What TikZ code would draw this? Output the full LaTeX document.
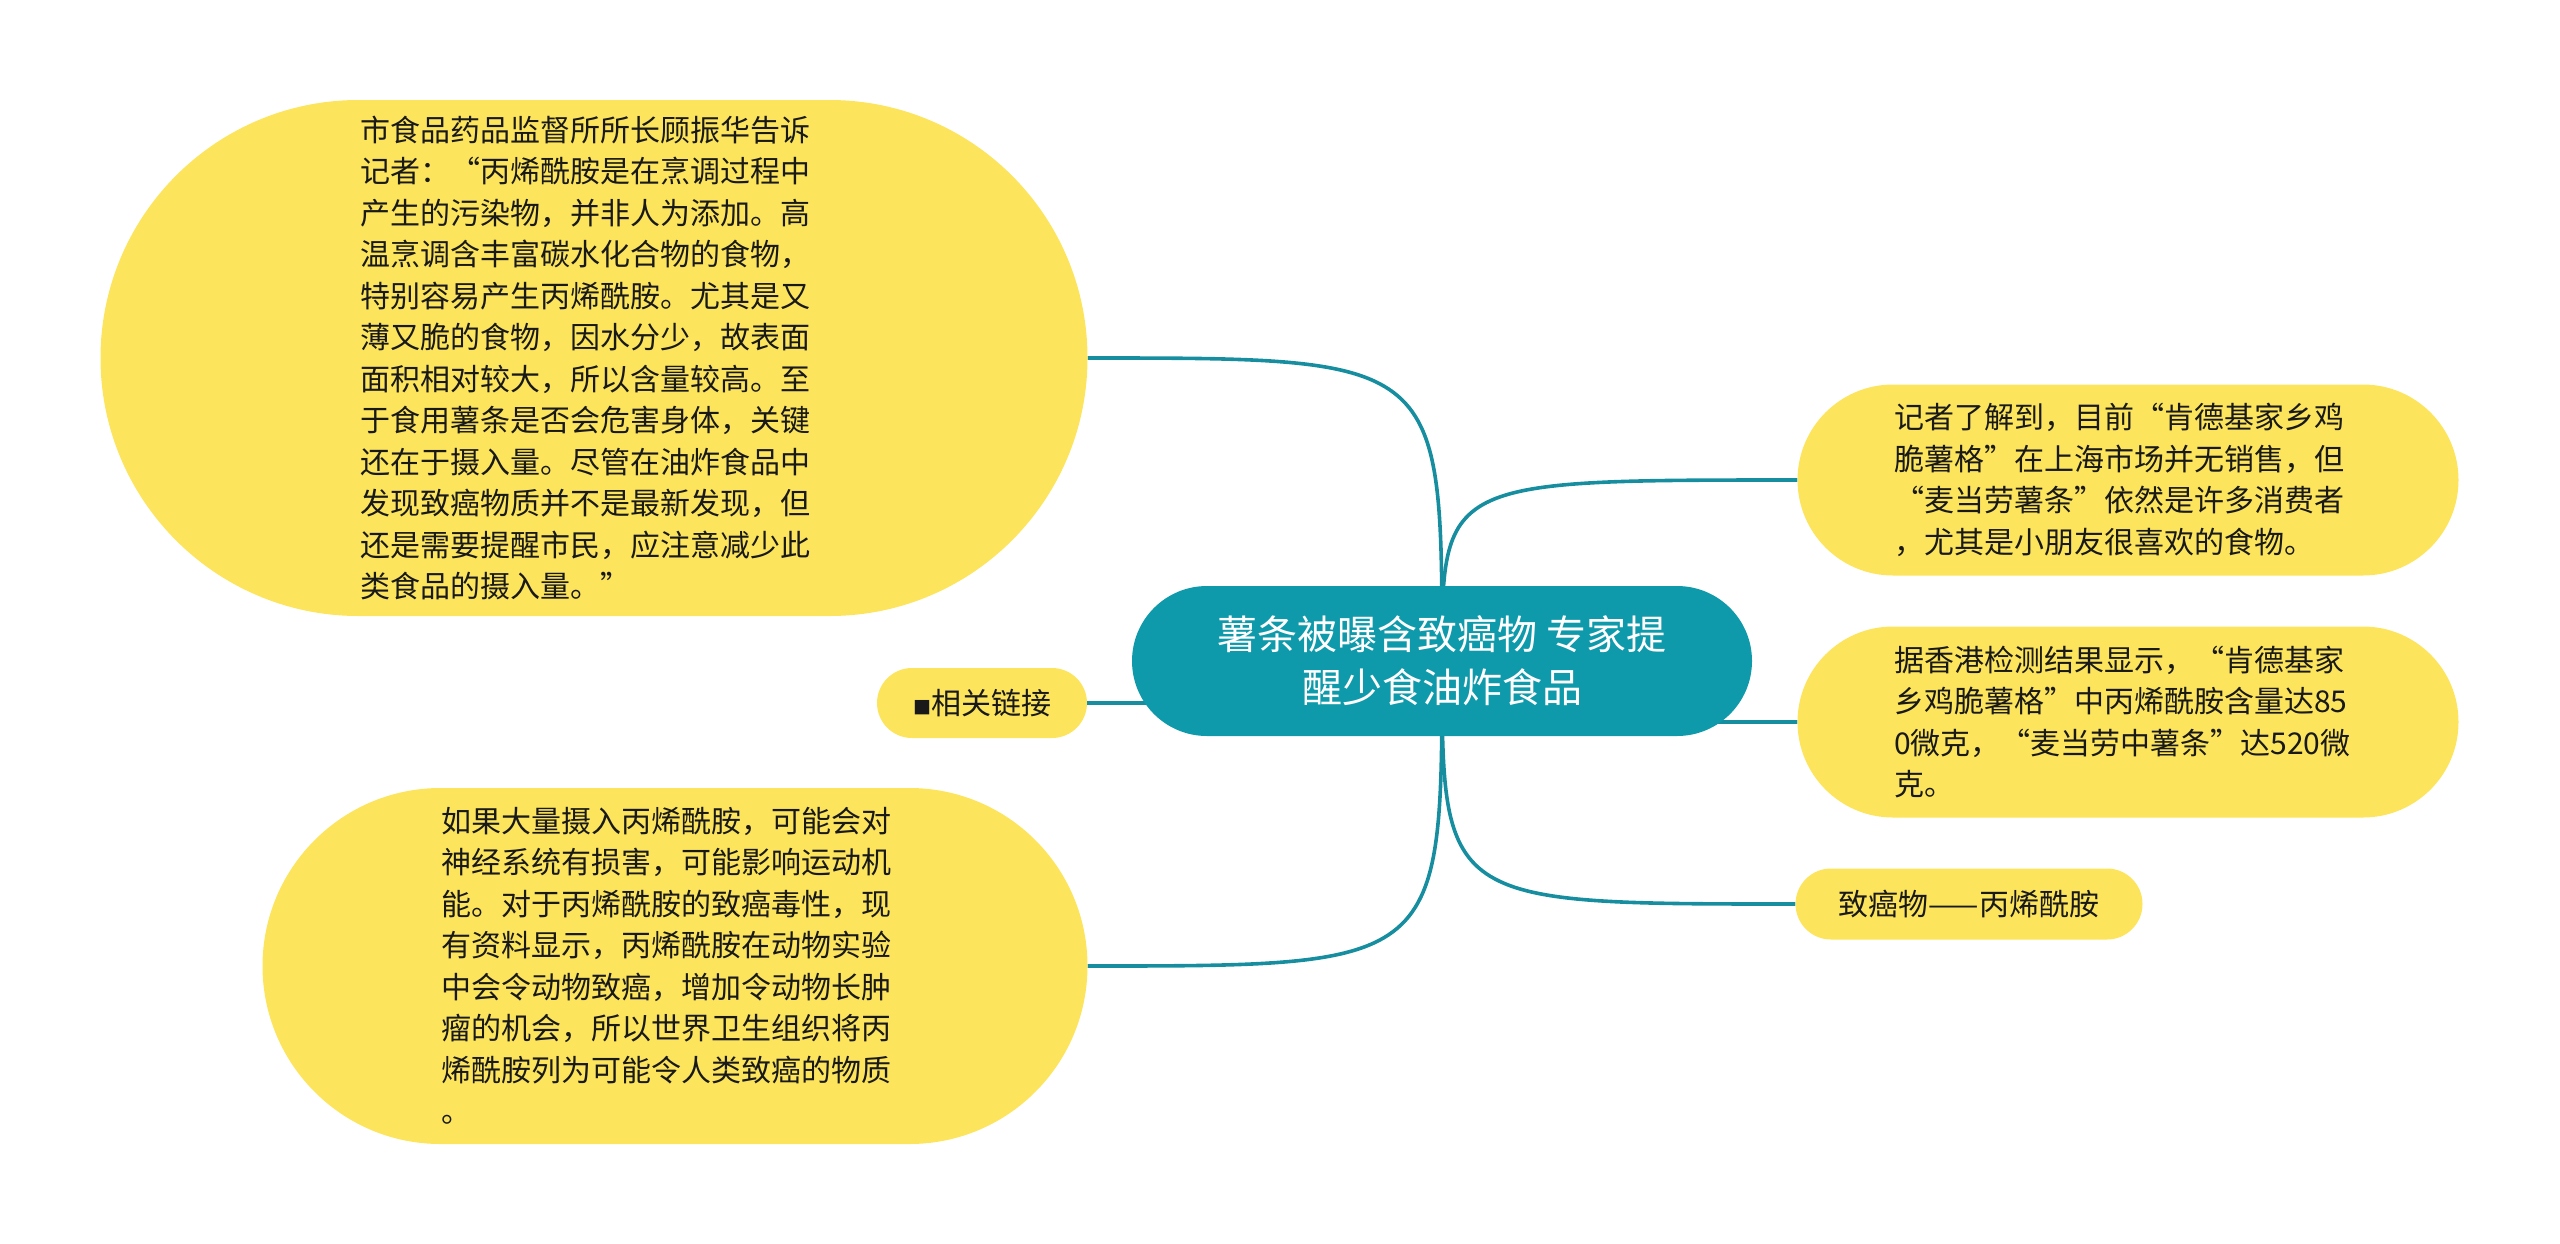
\documentclass[tikz,border=0pt]{standalone}
\usepackage{fontspec}
\setmainfont{Noto Sans CJK SC}
\newfontfamily\fwidfont[RawFeature=+fwid]{Noto Sans CJK SC}
\newcommand{\oquote}{{\fwidfont “}}
\newcommand{\cquote}{{\fwidfont ”}}
\usetikzlibrary{shapes.misc,backgrounds}

\definecolor{nodeyellow}{RGB}{252,229,92}
\definecolor{rootteal}{RGB}{14,154,170}
\definecolor{linkteal}{RGB}{22,142,160}
\definecolor{inkgray}{RGB}{25,25,25}

\tikzset{
  bubble/.style={rounded rectangle,fill=nodeyellow,text=inkgray,inner sep=0pt,
    font=\fontsize{30}{41.5}\selectfont},
  longtext/.style={bubble,align=left,text width=468pt},
  topic/.style={rounded rectangle,fill=rootteal,text=white,inner sep=0pt,align=center,
    minimum width=620pt,minimum height=150pt,font=\fontsize{40}{53}\selectfont},
  branch/.style={draw=linkteal,line width=3.6pt},
}

\begin{document}
\begin{tikzpicture}[x=1pt,y=-1pt]
  \useasboundingbox (0,0) rectangle (2560,1243);

  \node[topic] (root) at (1442,661) {薯条被曝含致癌物 专家提\\醒少食油炸食品};

  \node[longtext,minimum width=987pt,minimum height=516pt] (gu) at (594,358)
    {市食品药品监督所所长顾振华告诉\\记者：\oquote 丙烯酰胺是在烹调过程中\\产生的污染物，并非人为添加。高\\温烹调含丰富碳水化合物的食物，\\特别容易产生丙烯酰胺。尤其是又\\薄又脆的食物，因水分少，故表面\\面积相对较大，所以含量较高。至\\于食用薯条是否会危害身体，关键\\还在于摄入量。尽管在油炸食品中\\发现致癌物质并不是最新发现，但\\还是需要提醒市民，应注意减少此\\类食品的摄入量。\cquote};
  \node[bubble,minimum width=210pt,minimum height=70pt] (more) at (982,703)
    {{\fontsize{18}{18}\selectfont ■}相关链接};
  \node[longtext,minimum width=825pt,minimum height=356pt] (risk) at (675,966)
    {如果大量摄入丙烯酰胺，可能会对\\神经系统有损害，可能影响运动机\\能。对于丙烯酰胺的致癌毒性，现\\有资料显示，丙烯酰胺在动物实验\\中会令动物致癌，增加令动物长肿\\瘤的机会，所以世界卫生组织将丙\\烯酰胺列为可能令人类致癌的物质\\。};

  \node[longtext,minimum width=661pt,minimum height=191pt] (kfc) at (2128,480)
    {记者了解到，目前\oquote 肯德基家乡鸡\\脆薯格\cquote 在上海市场并无销售，但\\\oquote 麦当劳薯条\cquote 依然是许多消费者\\，尤其是小朋友很喜欢的食物。};
  \node[longtext,minimum width=661pt,minimum height=191pt] (hk) at (2128,722)
    {据香港检测结果显示，\oquote 肯德基家\\乡鸡脆薯格\cquote 中丙烯酰胺含量达85\\0微克，\oquote 麦当劳中薯条\cquote 达520微\\克。};
  \node[bubble,minimum width=347pt,minimum height=71pt] (agent) at (1969,904)
    {致癌物——丙烯酰胺};

  \begin{scope}[on background layer]
    \foreach \leaf in {gu,more,risk}
      \draw[branch] (root.center) .. controls (root.center |- \leaf.east) .. (\leaf.east);
    \foreach \leaf in {kfc,hk,agent}
      \draw[branch] (root.center) .. controls (root.center |- \leaf.west) .. (\leaf.west);
  \end{scope}
\end{tikzpicture}
\end{document}
